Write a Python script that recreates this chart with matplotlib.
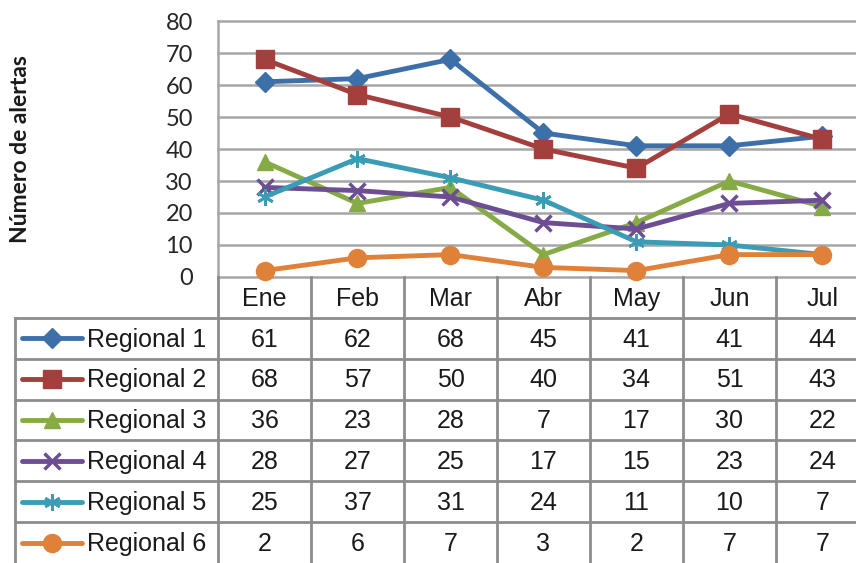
import numpy as np
import matplotlib.pyplot as plt

# Data
months = ['Ene', 'Feb', 'Mar', 'Abr', 'May', 'Jun', 'Jul']
regions = ['Regional 1', 'Regional 2', 'Regional 3', 'Regional 4', 'Regional 5', 'Regional 6']
reg1 = [61, 62, 68, 45, 41, 41, 44]
reg2 = [68, 57, 50, 40, 34, 51, 43]
reg3 = [36, 23, 28, 7, 17, 30, 22]
reg4 = [28, 27, 25, 17, 15, 23, 24]
reg5 = [25, 37, 31, 24, 11, 10, 7]
reg6 = [2, 6, 7, 3, 2, 7, 7]
y_ticks = [0, 10, 20, 30, 40, 50, 60, 70, 80]

series = [reg1, reg2, reg3, reg4, reg5, reg6]

# Styles (Excel-like)
colors = ['#3d6fa8', '#a33f3c', '#86ab46', '#6e4e93', '#3a9cb5', '#e0813a']
markers = ['D', 's', '^', 'x', (6, 2, 0), 'o']
msizes = [10, 12.5, 12, 11, 12, 13]
mews = [1, 1, 1, 2.5, 2, 1]

W, H = 856, 563
grid_col = '#a6a6a6'
txt_col = '#1a1a1a'


def box(l, t, r, b):
    # pixel box -> figure fraction
    return [l / W, 1 - b / H, (r - l) / W, (b - t) / H]


fig = plt.figure(figsize=(W / 100, H / 100), dpi=100)

# Chart area
ax = fig.add_axes(box(218, 21, 869, 277))
ax.set_xlim(0, len(months))
ax.set_ylim(0, 80)
for s in ax.spines.values():
    s.set_visible(False)
ax.set_xticks([])
ax.set_yticks(y_ticks)
ax.set_yticklabels([str(t) for t in y_ticks], family='Lato', fontsize=17, color='#262626')
ax.tick_params(axis='y', length=0, pad=18)
for t in y_ticks:
    ax.axhline(t, color=grid_col, lw=1.8, zorder=0, clip_on=False)
ax.axvline(0, color=grid_col, lw=1.8, zorder=0, clip_on=False)

x = np.arange(len(months)) + 0.5
for vals, c, m, ms, mew in zip(series, colors, markers, msizes, mews):
    ax.plot(x, vals, color=c, lw=3.5, marker=m, markersize=ms, markeredgewidth=mew,
            markeredgecolor=c, markerfacecolor=c, clip_on=False, zorder=3)

fig.text(21 / W, 1 - 149 / H, 'Número de alertas', rotation=90, ha='center', va='center',
         family='Lato', fontweight='bold', fontsize=16.5, color=txt_col)

# Data table below the chart
col_w = (869 - 218) / len(months)
leg_w = (218 - 15) / col_w
tab = fig.add_axes(box(15, 277, 869, 563))
tab.set_xlim(-leg_w, len(months))
tab.set_ylim(len(regions) + 1, 0)
tab.axis('off')

tcol = '#8c8c8c'
for r in range(1, len(regions) + 1):
    tab.plot([-leg_w, len(months)], [r, r], color=tcol, lw=2, clip_on=False)
for i in range(len(months) + 1):
    tab.plot([i, i], [0, len(regions) + 1], color=tcol, lw=2, clip_on=False)
tab.plot([-leg_w, -leg_w], [1, len(regions) + 1], color=tcol, lw=2, clip_on=False)

for i, m in enumerate(months):
    tab.text(i + 0.5, 0.55, m, ha='center', va='center', family='Liberation Sans',
             fontsize=18, color=txt_col)

x0 = (22 - 218) / col_w
x1 = (82 - 218) / col_w
xt = (87 - 218) / col_w
for r, (name, vals, c, m, ms, mew) in enumerate(zip(regions, series, colors, markers, msizes, mews)):
    yc = r + 1.5
    tab.plot([x0, x1], [yc, yc], color=c, lw=3.5, solid_capstyle='round', clip_on=False)
    tab.plot([(x0 + x1) / 2], [yc], marker=m, markersize=ms, markeredgewidth=mew,
             color=c, clip_on=False)
    tab.text(xt, yc + 0.03, name, ha='left', va='center', family='Liberation Sans',
             fontsize=18, color=txt_col)
    for i, v in enumerate(vals):
        tab.text(i + 0.5, yc + 0.03, str(v), ha='center', va='center',
                 family='Liberation Sans', fontsize=18, color=txt_col)

fig.savefig('out.png', dpi=100)
